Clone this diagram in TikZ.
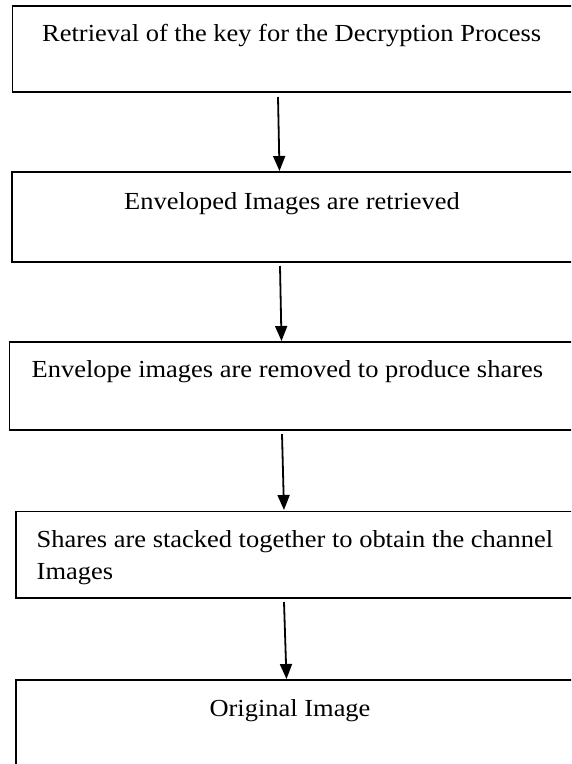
\documentclass[tikz,border=0pt]{standalone}
\usepackage{graphicx}
\usepackage{fontspec}
\setmainfont{Liberation Serif}
\usetikzlibrary{arrows.meta}
\newcommand{\wtxt}[1]{\scalebox{1.08}[1]{#1}}
\begin{document}
\begin{tikzpicture}[x=1pt,y=-1pt,
  box/.style={draw=black,line width=1.6pt,minimum height=#1,anchor=north west,inner sep=0pt,outer sep=0pt},
  txt/.style={inner sep=0pt,font=\fontsize{24.5}{30}\selectfont},
  arr/.style={line width=1.8pt,-{Triangle[length=15pt,width=12pt]}}]
\useasboundingbox (0,0) rectangle (571,764);
\clip (0,0) rectangle (571,764);
% boxes
\node[box=86pt,minimum width=600pt] (b1) at (12.3,6) {};
\node[box=90pt,minimum width=600pt] (b2) at (12,172) {};
\node[box=88pt,minimum width=600pt] (b3) at (9.5,342) {};
\node[box=86.5pt,minimum width=600pt] (b4) at (15.7,511.5) {};
\node[box=120pt,minimum width=600pt] (b5) at (15.7,680) {};
% texts
\node[txt,anchor=base west] (t1) at (42,41.5) {\wtxt{Retrieval of the key for the Decryption Process}};
\node[txt,anchor=base] (t2) at (292,209) {\wtxt{Enveloped Images are retrieved}};
\node[txt,anchor=base west] (t3) at (31.5,377.5) {\wtxt{Envelope images are removed to produce shares}};
\node[txt,anchor=base west] (t4) at (36.5,547.5) {\wtxt{Shares are stacked together to obtain the channel}};
\node[txt,anchor=base west] (t4b) at (36.5,579.5) {\wtxt{Images}};
\node[txt,anchor=base] (t5) at (290,716) {\wtxt{Original Image}};
% arrow end points
\coordinate (a1s) at (278,97);  \coordinate (a1e) at (279.5,171);
\coordinate (a2s) at (280,266); \coordinate (a2e) at (281.5,341);
\coordinate (a3s) at (282,434); \coordinate (a3e) at (284,510);
\coordinate (a4s) at (284,602); \coordinate (a4e) at (286.5,679);
\draw[arr] (a1s) -- (a1e);
\draw[arr] (a2s) -- (a2e);
\draw[arr] (a3s) -- (a3e);
\draw[arr] (a4s) -- (a4e);
\end{tikzpicture}
\end{document}
